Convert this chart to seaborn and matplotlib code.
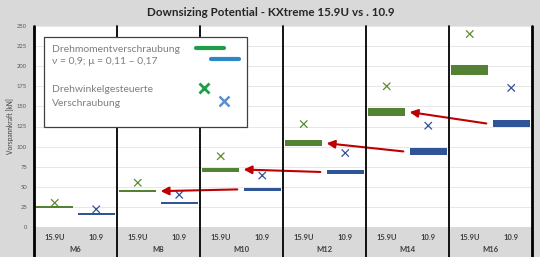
import matplotlib
matplotlib.use("Agg")
import matplotlib.pyplot as plt
from matplotlib.patches import Rectangle
from matplotlib.lines import Line2D
import seaborn as sns
import pandas as pd
import numpy as np

# ---- data ----
sizes = ["M6", "M8", "M10", "M12", "M14", "M16"]
grades = ["15.9U", "10.9"]
torque_low_159 = [23.8, 43.0, 69.0, 100.5, 138.0, 189.0]
torque_high_159 = [26.2, 46.2, 74.0, 107.8, 148.0, 202.0]
torque_low_109 = [15.2, 28.6, 45.0, 65.5, 90.0, 124.0]
torque_high_109 = [17.4, 30.8, 48.5, 71.4, 98.0, 133.5]
angle_159 = [30, 55, 88, 128, 175, 240]
angle_109 = [22, 40, 64, 92, 126, 173]
yticks = [0, 25, 50, 75, 100, 125, 150, 175, 200, 225, 250]

title = "Downsizing Potential - KXtreme 15.9U vs . 10.9"
ylabel = "Vorspannkraft [kN]"

sns.set_theme(style="white")
plt.rcParams["font.family"] = ["Lato", "DejaVu Sans"]

BG = "#D9D9D9"
GREEN = "#548235"
BLUE = "#2F5597"
XGREEN = "#5B8C32"
XBLUE = "#34509A"

fig = plt.figure(figsize=(5.4, 2.57), dpi=100, facecolor=BG)
ax = fig.add_axes([34 / 540, 30 / 257, 498 / 540, 201 / 257])
ax.set_facecolor("white")

slots_159 = [2 * i for i in range(len(sizes))]
slots_109 = [2 * i + 1 for i in range(len(sizes))]

# floating bars (torque-controlled range)
ax.bar(slots_159, np.array(torque_high_159) - np.array(torque_low_159),
       bottom=torque_low_159, width=0.9, color=GREEN, linewidth=0, zorder=3)
ax.bar(slots_109, np.array(torque_high_109) - np.array(torque_low_109),
       bottom=torque_low_109, width=0.9, color=BLUE, linewidth=0, zorder=3)

# crosses (angle-controlled)
df = pd.DataFrame({
    "slot": slots_159 + slots_109,
    "value": angle_159 + angle_109,
    "grade": [grades[0]] * len(sizes) + [grades[1]] * len(sizes),
})
sns.scatterplot(data=df, x="slot", y="value", hue="grade", marker="x",
                palette={grades[0]: XGREEN, grades[1]: XBLUE}, s=28,
                linewidth=0.9, legend=False, ax=ax, zorder=4)

# arrows: 10.9 of next size -> 15.9U of previous size
for k in range(1, len(sizes) - 1):
    y_tail = (torque_low_109[k + 1] + torque_high_109[k + 1]) / 2
    y_head = (torque_low_159[k] + torque_high_159[k]) / 2
    ax.annotate("", xy=(slots_159[k] + 0.55, y_head),
                xytext=(slots_109[k + 1] - 0.6, y_tail),
                arrowprops=dict(arrowstyle="-|>,head_length=0.4,head_width=0.2",
                                color="#C00000", lw=1.5, shrinkA=0, shrinkB=0),
                zorder=5)

ax.set_xlim(-0.5, 2 * len(sizes) - 0.5)
ax.set_ylim(0, 250)
ax.set_yticks(yticks)
ax.set_yticklabels([str(t) for t in yticks], fontsize=4.2, color="#595959")
ax.yaxis.grid(True, color="#E3E3E3", lw=0.6)
ax.set_axisbelow(True)
ax.tick_params(axis="y", length=0, pad=5)
ax.set_ylabel(ylabel, fontsize=4.8, color="#404040")
ax.yaxis.set_label_coords(-0.04, 0.5)

ax.set_xticks(slots_159 + slots_109)
ax.set_xticklabels([grades[0]] * len(sizes) + [grades[1]] * len(sizes),
                   fontsize=5.5, fontweight="bold", color="#404040")
ax.tick_params(axis="x", length=0, pad=5)
ax.set_xlabel("")
for i, s in enumerate(sizes):
    ax.text(2 * i + 0.5, -0.11, s, transform=ax.get_xaxis_transform(),
            ha="center", va="center", fontsize=5.5, fontweight="bold", color="#404040")

for sp in ax.spines.values():
    sp.set_visible(False)

# group separators extending through category band
for xv in [-0.5] + [2 * i + 1.5 for i in range(len(sizes))]:
    lw = 2.0 if xv in (-0.5, 2 * len(sizes) - 0.5) else 1.3
    ax.axvline(xv, ymin=-0.16, ymax=1.0, color="black", lw=lw, clip_on=False, zorder=6)

# title
fig.text(271 / 540, 1 - 12.5 / 257, title, ha="center", va="center",
         fontsize=8.4, fontweight="bold", color="#262626")

# custom legend box
fig.add_artist(Rectangle((44 / 540, 1 - 127 / 257), 203 / 540, 90 / 257,
                         transform=fig.transFigure, facecolor="white",
                         edgecolor="#404040", lw=0.9, zorder=10))
tc = "#7F7F7F"
for txt, yp in [("Drehmomentverschraubung", 49), ("ν = 0,9; μ = 0,11 – 0,17", 62),
                ("Drehwinkelgesteuerte", 90), ("Verschraubung", 103)]:
    fig.text(52 / 540, 1 - yp / 257, txt, ha="left", va="center",
             fontsize=7.5, color=tc, zorder=11)
fig.add_artist(Line2D([196 / 540, 224 / 540], [1 - 48 / 257] * 2,
                      transform=fig.transFigure, color="#1E9E48", lw=3, zorder=11))
fig.add_artist(Line2D([211 / 540, 239 / 540], [1 - 59 / 257] * 2,
                      transform=fig.transFigure, color="#2A87C8", lw=3, zorder=11))
fig.add_artist(Line2D([204 / 540], [1 - 88 / 257], transform=fig.transFigure,
                      marker="x", markersize=6.5, markeredgewidth=2,
                      color="#1E9E48", linestyle="none", zorder=11))
fig.add_artist(Line2D([224 / 540], [1 - 101 / 257], transform=fig.transFigure,
                      marker="x", markersize=6.5, markeredgewidth=1.8,
                      color="#5B8FCC", linestyle="none", zorder=11))

fig.savefig("out.png", dpi=100, facecolor=BG)
